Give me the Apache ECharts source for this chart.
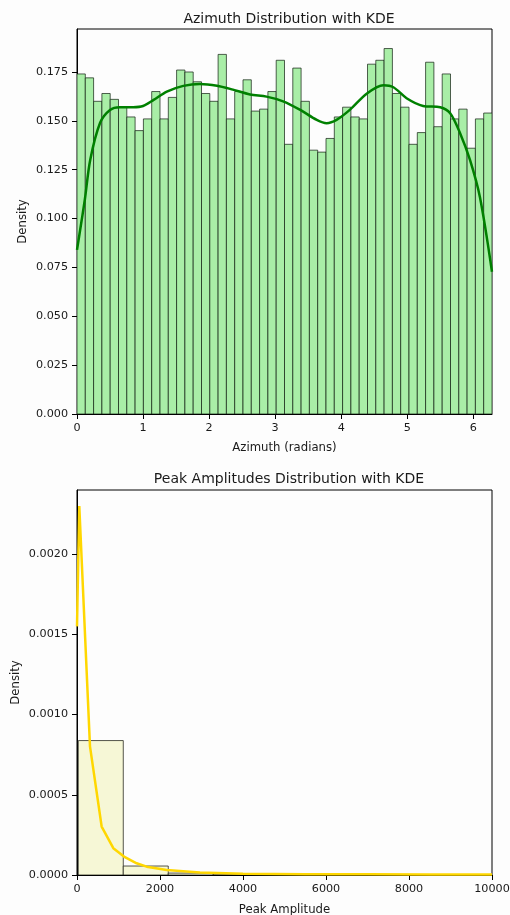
<!DOCTYPE html>
<html>
<head>
<meta charset="utf-8">
<script src="https://cdn.jsdelivr.net/npm/echarts@6/dist/echarts.min.js"></script>
<style>
  html, body { margin: 0; background: #fdfdfd; }
  #chart { width: 510px; height: 915px; }
</style>
</head>
<body>
<div id="chart"></div>
<script>
// 方位角直方图：50 个分箱，范围 [0, 2π]
const azimuthRange = [0, 2 * Math.PI];
const azimuthDensity = [
  0.174, 0.172, 0.160, 0.164, 0.161, 0.157, 0.152, 0.145, 0.151, 0.165,
  0.151, 0.162, 0.176, 0.175, 0.170, 0.164, 0.160, 0.184, 0.151, 0.165,
  0.171, 0.155, 0.156, 0.165, 0.181, 0.138, 0.177, 0.160, 0.135, 0.134,
  0.141, 0.152, 0.157, 0.152, 0.151, 0.179, 0.181, 0.187, 0.164, 0.157,
  0.138, 0.144, 0.180, 0.147, 0.174, 0.151, 0.156, 0.136, 0.151, 0.154
];
// 方位角 KDE 曲线 [弧度, 密度]
const azimuthKde = [
  [0, 0.084], [0.07, 0.099], [0.12, 0.110], [0.20, 0.130], [0.35, 0.149],
  [0.50, 0.1556], [0.65, 0.157], [0.85, 0.157], [1.00, 0.1576], [1.16, 0.1607],
  [1.36, 0.165], [1.61, 0.1679], [1.86, 0.1689], [2.12, 0.168], [2.36, 0.166],
  [2.62, 0.1635], [2.87, 0.1624], [3.12, 0.160], [3.38, 0.1556], [3.63, 0.1505],
  [3.78, 0.1488], [3.93, 0.1505], [4.13, 0.1556], [4.39, 0.164], [4.64, 0.1682],
  [4.79, 0.1672], [4.99, 0.1616], [5.24, 0.1576], [5.50, 0.157], [5.65, 0.1539],
  [5.80, 0.1437], [5.95, 0.130], [6.10, 0.111], [6.283, 0.0728]
];
const azimuthXTicks = [0, 1, 2, 3, 4, 5, 6];
const azimuthYTicks = [0, 0.025, 0.05, 0.075, 0.1, 0.125, 0.15, 0.175];

// 峰值幅度直方图
const peakBinEdges = [31, 1115, 2199, 3283, 4367, 5451, 6535, 7619, 8703, 9787, 10871];
const peakDensity = [0.000838, 0.000056, 0.000012, 0.000006, 0.000004, 0.000002, 0.000001, 0.000001, 0.0000005, 0.0000005];
// 峰值幅度 KDE 曲线 [幅度, 密度]
const peakKde = [
  [0, 0.00155], [55, 0.00230], [313, 0.000802], [594, 0.000302], [875, 0.000167],
  [1132, 0.000115], [1437, 0.000073], [1678, 0.000052], [2160, 0.000031],
  [2962, 0.000015], [4000, 0.000008], [5500, 0.000005], [7000, 0.000004],
  [8500, 0.000003], [10000, 0.000003]
];
const peakXTicks = [0, 2000, 4000, 6000, 8000, 10000];
const peakYTicks = [0, 0.0005, 0.001, 0.0015, 0.002];

const FONT = 'DejaVu Sans';
const INK = '#1a1a1a';
const TICK_FONT = 11.2;
const NAME_FONT = 11.7;

// 直方图数据 [左边界, 右边界, 密度]
const azimuthWidth = (azimuthRange[1] - azimuthRange[0]) / azimuthDensity.length;
const azimuthBins = azimuthDensity.map((d, i) => [azimuthRange[0] + i * azimuthWidth, azimuthRange[0] + (i + 1) * azimuthWidth, d]);
const peakBins = peakDensity.map((d, i) => [peakBinEdges[i], peakBinEdges[i + 1], d]);

const histRender = (fill, stroke) => (params, api) => {
  const p0 = api.coord([api.value(0), api.value(2)]);
  const p1 = api.coord([api.value(1), 0]);
  return {
    type: 'rect',
    shape: { x: p0[0], y: p0[1], width: p1[0] - p0[0], height: p1[1] - p0[1] },
    style: { fill: fill, stroke: stroke, lineWidth: 1 }
  };
};

// matplotlib 风格的坐标轴
const valueAxis = (ticks, formatter, extra) => Object.assign({
  type: 'value',
  nameLocation: 'middle',
  nameMoveOverlap: false,
  nameTextStyle: { fontFamily: FONT, fontSize: NAME_FONT, color: INK },
  axisLine: { show: true, lineStyle: { color: '#000', width: 1 } },
  axisTick: { show: true, length: 5, lineStyle: { color: '#000' }, customValues: ticks },
  axisLabel: { fontFamily: FONT, fontSize: TICK_FONT, color: INK, margin: 9, customValues: ticks, formatter: formatter },
  splitLine: { show: false }
}, extra);

const chart = echarts.init(document.getElementById('chart'));

const gridBase = {
  left: 77, width: 415, height: 385, show: true, borderColor: '#000', borderWidth: 1,
  backgroundColor: 'transparent', containLabel: false, outerBoundsMode: 'none'
};

const option = {
  backgroundColor: '#fdfdfd',
  animation: false,
  title: [
    { text: 'Azimuth Distribution with KDE', left: 284, top: 7, textAlign: 'center',
      textStyle: { fontFamily: FONT, fontSize: 14, fontWeight: 'normal', color: INK } },
    { text: 'Peak Amplitudes Distribution with KDE', left: 284, top: 467, textAlign: 'center',
      textStyle: { fontFamily: FONT, fontSize: 14, fontWeight: 'normal', color: INK } }
  ],
  grid: [
    Object.assign({ top: 29 }, gridBase),
    Object.assign({ top: 490 }, gridBase)
  ],
  xAxis: [
    valueAxis(azimuthXTicks, v => String(v), {
      gridIndex: 0, min: azimuthRange[0], max: azimuthRange[1],
      name: 'Azimuth (radians)', nameGap: 28
    }),
    valueAxis(peakXTicks, v => String(v), {
      gridIndex: 1, min: 0, max: 10000,
      name: 'Peak Amplitude', nameGap: 29
    })
  ],
  yAxis: [
    valueAxis(azimuthYTicks, v => v.toFixed(3), {
      gridIndex: 0, min: 0, max: 0.197,
      name: 'Density', nameGap: 48
    }),
    valueAxis(peakYTicks, v => v.toFixed(4), {
      gridIndex: 1, min: 0, max: 0.0024,
      name: 'Density', nameGap: 55
    })
  ],
  series: [
    {
      type: 'custom', xAxisIndex: 0, yAxisIndex: 0, clip: true,
      renderItem: histRender('#a9eea7', 'rgba(15,30,15,0.7)'),
      encode: { x: [0, 1], y: 2 },
      data: azimuthBins
    },
    {
      type: 'line', xAxisIndex: 0, yAxisIndex: 0, data: azimuthKde,
      smooth: 0.3, showSymbol: false, clip: true,
      lineStyle: { color: '#008000', width: 2.5 }
    },
    {
      type: 'custom', xAxisIndex: 1, yAxisIndex: 1, clip: true,
      renderItem: histRender('#f6f7d6', 'rgba(30,30,20,0.75)'),
      encode: { x: [0, 1], y: 2 },
      data: peakBins
    },
    {
      type: 'line', xAxisIndex: 1, yAxisIndex: 1, data: peakKde,
      smooth: false, showSymbol: false, clip: true,
      lineStyle: { color: '#ffd700', width: 2.5 }
    }
  ]
};

chart.setOption(option);
</script>
</body>
</html>
